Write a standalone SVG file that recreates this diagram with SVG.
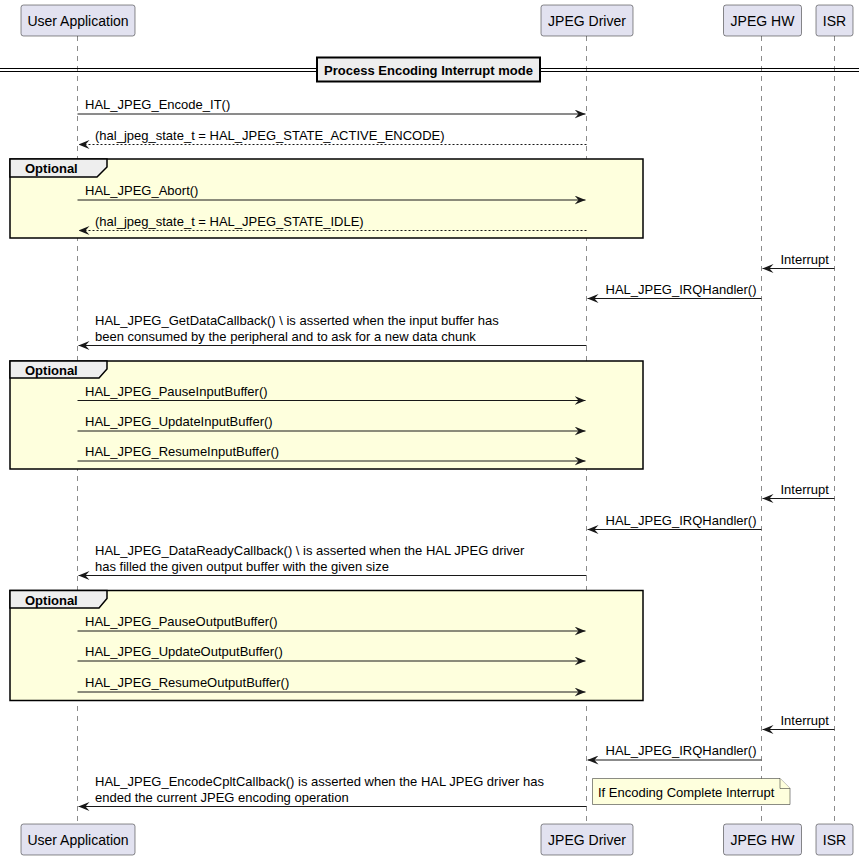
<svg xmlns="http://www.w3.org/2000/svg" width="864" height="860" viewBox="0 0 864 860">
<defs>
<style>
.pbox{fill:#E2E2F0;stroke:#181818;stroke-width:0.5;}
.ptxt{font-family:"Liberation Sans",Arial,sans-serif;font-size:14px;fill:#000;text-anchor:middle;}
.life{stroke:#181818;stroke-width:0.5;stroke-dasharray:5,5;fill:none;}
.msg{stroke:#181818;stroke-width:1;fill:none;}
.ret{stroke:#181818;stroke-width:1;fill:none;stroke-dasharray:2,2;}
.t{font-family:"Liberation Sans",Arial,sans-serif;font-size:13px;fill:#000;}
.b{font-family:"Liberation Sans",Arial,sans-serif;font-size:13px;font-weight:bold;fill:#000;}
.grp{fill:#FEFFDD;stroke:#000;stroke-width:1.5;}
.tab{fill:#EEEEEE;stroke:#000;stroke-width:1.5;}
.note{fill:#FEFFDD;stroke:#181818;stroke-width:0.5;}
</style>
<marker id="ah" viewBox="0 0 11 9" refX="11" refY="4.5" markerWidth="11" markerHeight="9" markerUnits="userSpaceOnUse" orient="auto">
<polygon points="0,0 11,4.5 0,9 4,4.5" fill="#181818"/>
</marker>
</defs>
<rect width="864" height="860" fill="#FFFFFF"/>

<g id="lifelines">
<line class="life" x1="77.5" y1="36" x2="77.5" y2="824"/>
<line class="life" x1="586.5" y1="36" x2="586.5" y2="824"/>
<line class="life" x1="761.5" y1="36" x2="761.5" y2="824"/>
<line class="life" x1="834.5" y1="36" x2="834.5" y2="824"/>
</g>

<g id="divider">
<line x1="0" y1="68.5" x2="859" y2="68.5" stroke="#000" stroke-width="1"/>
<line x1="0" y1="71.5" x2="859" y2="71.5" stroke="#000" stroke-width="1"/>
<rect x="317" y="57.5" width="223" height="24" fill="#EEEEEE" stroke="#000" stroke-width="2"/>
<text class="b" x="428.5" y="74.5" text-anchor="middle">Process Encoding Interrupt mode</text>
</g>

<g id="group1">
<rect class="grp" x="10" y="159" width="633" height="79"/>
<path class="tab" d="M10,159 H107 V167 L97,177 H10 Z"/>
<text class="b" x="25" y="173">Optional</text>
</g>
<g id="group2">
<rect class="grp" x="10" y="361" width="633" height="108"/>
<path class="tab" d="M10,361 H107 V369 L99,378 H10 Z"/>
<text class="b" x="25" y="375">Optional</text>
</g>
<g id="group3">
<rect class="grp" x="10" y="590.5" width="633" height="110"/>
<path class="tab" d="M10,590.5 H107 V598.5 L99,608 H10 Z"/>
<text class="b" x="25" y="605">Optional</text>
</g>

<g id="connectors">
<line class="msg" x1="77.5" y1="114" x2="585.5" y2="114" marker-end="url(#ah)"/>
<text class="t" x="85" y="109">HAL_JPEG_Encode_IT()</text>
<line class="ret" x1="586.5" y1="144.5" x2="78.5" y2="144.5" marker-end="url(#ah)"/>
<text class="t" x="95" y="139.5">(hal_jpeg_state_t = HAL_JPEG_STATE_ACTIVE_ENCODE)</text>

<line class="msg" x1="77.5" y1="200" x2="585.5" y2="200" marker-end="url(#ah)"/>
<text class="t" x="85" y="195">HAL_JPEG_Abort()</text>
<line class="ret" x1="586.5" y1="230.5" x2="78.5" y2="230.5" marker-end="url(#ah)"/>
<text class="t" x="95" y="225.5">(hal_jpeg_state_t = HAL_JPEG_STATE_IDLE)</text>

<line class="msg" x1="834.5" y1="268.5" x2="762.5" y2="268.5" marker-end="url(#ah)"/>
<text class="t" x="780.5" y="263.5">Interrupt</text>
<line class="msg" x1="761.5" y1="298.5" x2="587.5" y2="298.5" marker-end="url(#ah)"/>
<text class="t" x="605.5" y="293.5">HAL_JPEG_IRQHandler()</text>

<line class="msg" x1="586.5" y1="345.5" x2="78.5" y2="345.5" marker-end="url(#ah)"/>
<text class="t" x="95" y="325">HAL_JPEG_GetDataCallback() \ is asserted when the input buffer has</text>
<text class="t" x="95" y="340.5">been consumed by the peripheral and to ask for a new data chunk</text>

<line class="msg" x1="77.5" y1="400.5" x2="585.5" y2="400.5" marker-end="url(#ah)"/>
<text class="t" x="85" y="395.5">HAL_JPEG_PauseInputBuffer()</text>
<line class="msg" x1="77.5" y1="431" x2="585.5" y2="431" marker-end="url(#ah)"/>
<text class="t" x="85" y="426">HAL_JPEG_UpdateInputBuffer()</text>
<line class="msg" x1="77.5" y1="461" x2="585.5" y2="461" marker-end="url(#ah)"/>
<text class="t" x="85" y="456">HAL_JPEG_ResumeInputBuffer()</text>

<line class="msg" x1="834.5" y1="498.5" x2="762.5" y2="498.5" marker-end="url(#ah)"/>
<text class="t" x="780.5" y="493.5">Interrupt</text>
<line class="msg" x1="761.5" y1="529.5" x2="587.5" y2="529.5" marker-end="url(#ah)"/>
<text class="t" x="605.5" y="524.5">HAL_JPEG_IRQHandler()</text>

<line class="msg" x1="586.5" y1="575.5" x2="78.5" y2="575.5" marker-end="url(#ah)"/>
<text class="t" x="95" y="555">HAL_JPEG_DataReadyCallback() \ is asserted when the HAL JPEG driver</text>
<text class="t" x="95" y="570.5">has filled the given output buffer with the given size</text>

<line class="msg" x1="77.5" y1="631" x2="585.5" y2="631" marker-end="url(#ah)"/>
<text class="t" x="85" y="626">HAL_JPEG_PauseOutputBuffer()</text>
<line class="msg" x1="77.5" y1="661" x2="585.5" y2="661" marker-end="url(#ah)"/>
<text class="t" x="85" y="656">HAL_JPEG_UpdateOutputBuffer()</text>
<line class="msg" x1="77.5" y1="692" x2="585.5" y2="692" marker-end="url(#ah)"/>
<text class="t" x="85" y="687">HAL_JPEG_ResumeOutputBuffer()</text>

<line class="msg" x1="834.5" y1="729.5" x2="762.5" y2="729.5" marker-end="url(#ah)"/>
<text class="t" x="780.5" y="724.5">Interrupt</text>
<line class="msg" x1="761.5" y1="760" x2="587.5" y2="760" marker-end="url(#ah)"/>
<text class="t" x="605.5" y="755">HAL_JPEG_IRQHandler()</text>

<line class="msg" x1="586.5" y1="806.5" x2="78.5" y2="806.5" marker-end="url(#ah)"/>
<text class="t" x="95" y="786">HAL_JPEG_EncodeCpltCallback() is asserted when the HAL JPEG driver has</text>
<text class="t" x="95" y="801.5">ended the current JPEG encoding operation</text>
</g>

<g id="note">
<path class="note" d="M592.5,778.5 H780 L790,788.5 V804.5 H592.5 Z"/>
<path class="note" d="M780,778.5 V788.5 H790"/>
<text class="t" x="598" y="797">If Encoding Complete Interrupt</text>
</g>

<g id="p_user">
<rect class="pbox" x="21" y="5" width="114" height="31" rx="2.5"/>
<text class="ptxt" x="78" y="26">User Application</text>
<rect class="pbox" x="21" y="824" width="114" height="31" rx="2.5"/>
<text class="ptxt" x="78" y="845">User Application</text>
</g>
<g id="p_driver">
<rect class="pbox" x="541" y="5" width="92" height="31" rx="2.5"/>
<text class="ptxt" x="587" y="26">JPEG Driver</text>
<rect class="pbox" x="541" y="824" width="92" height="31" rx="2.5"/>
<text class="ptxt" x="587" y="845">JPEG Driver</text>
</g>
<g id="p_hw">
<rect class="pbox" x="723.5" y="5" width="78" height="31" rx="2.5"/>
<text class="ptxt" x="762.5" y="26">JPEG HW</text>
<rect class="pbox" x="723.5" y="824" width="78" height="31" rx="2.5"/>
<text class="ptxt" x="762.5" y="845">JPEG HW</text>
</g>
<g id="p_isr">
<rect class="pbox" x="816" y="5" width="37" height="31" rx="2.5"/>
<text class="ptxt" x="834.5" y="26">ISR</text>
<rect class="pbox" x="816" y="824" width="37" height="31" rx="2.5"/>
<text class="ptxt" x="834.5" y="845">ISR</text>
</g>
</svg>
